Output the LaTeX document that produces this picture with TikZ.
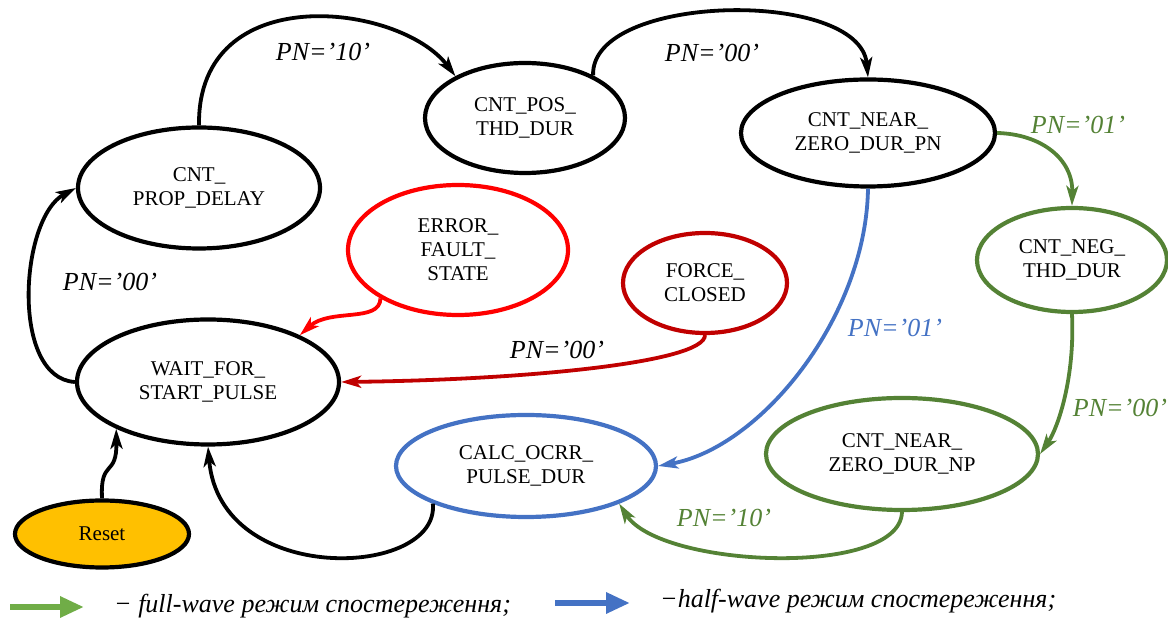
\documentclass[tikz,border=0pt]{standalone}
\usepackage{fontspec}
\setmainfont{Liberation Serif}
\usetikzlibrary{shapes}
\usetikzlibrary{arrows.meta}
\definecolor{fwgreen}{HTML}{548235}
\definecolor{lggreen}{HTML}{70AD47}
\definecolor{hwblue}{HTML}{4472C4}
\definecolor{errred}{HTML}{FF0000}
\definecolor{frcred}{HTML}{C00000}
\definecolor{rstfill}{HTML}{FFC000}

\begin{document}
\begin{tikzpicture}[x=1pt,y=1pt,
	fsm/.style={ellipse,draw,line width=4.2pt,inner sep=0pt,align=center,font=\fontsize{21}{24}\selectfont},
	trans/.style={line width=3.8pt,-{Stealth[length=20pt,width=12pt,inset=5pt]}},
	cond/.style={font=\fontsize{26}{30}\selectfont\itshape},
	legarrow/.style={line width=6.5pt,-{Triangle[length=24pt,width=20pt]}}
	]
	\useasboundingbox (0,0) rectangle (1168,618);
	% states
	\node[fsm,minimum width=242pt,minimum height=121pt] (prop) at (199,430) {CNT\_\\PROP\_DELAY};
	\node[fsm,minimum width=200pt,minimum height=110pt] (pos) at (525,500) {CNT\_POS\_\\THD\_DUR};
	\node[fsm,minimum width=254pt,minimum height=107pt] (pn) at (868,485) {CNT\_NEAR\_\\ZERO\_DUR\_PN};
	\node[fsm,draw=fwgreen,minimum width=190pt,minimum height=104pt] (neg) at (1072,358) {CNT\_NEG\_\\THD\_DUR};
	\node[fsm,draw=fwgreen,minimum width=272pt,minimum height=112pt] (np) at (902,164) {CNT\_NEAR\_\\ZERO\_DUR\_NP};
	\node[fsm,draw=hwblue,minimum width=260pt,minimum height=102pt] (calc) at (526,152) {CALC\_OCRR\_\\PULSE\_DUR};
	\node[fsm,minimum width=262pt,minimum height=125pt] (wait) at (208,236) {WAIT\_FOR\_\\START\_PULSE};
	\node[fsm,draw=errred,minimum width=220pt,minimum height=130pt] (err) at (458,368) {ERROR\_\\FAULT\_\\STATE};
	\node[fsm,draw=frcred,minimum width=164pt,minimum height=100pt] (force) at (705,335) {FORCE\_\\CLOSED};
	\node[fsm,fill=rstfill,minimum width=174pt,minimum height=67pt] (reset) at (102,84) {Reset};

	% transitions
	\draw[trans] (prop.north) .. controls (197,640) and (400,615) .. (pos.149);
	\draw[trans] (pos.32) .. controls (590,625) and (860,630) .. (pn.north);
	\draw[trans,fwgreen] (pn.east) .. controls (1040,484) and (1073,460) .. (neg.north);
	\draw[trans,fwgreen] (neg.south) .. controls (1075,240) and (1058,190) .. (np.east);
	\draw[trans,fwgreen] (np.south) .. controls (900,40) and (660,50) .. (calc.-22);
	\draw[trans,hwblue] (pn.south) .. controls (866,300) and (760,170) .. (calc.east);
	\draw[trans] (calc.202) .. controls (440,40) and (220,30) .. (wait.south);
	\draw[trans] (reset.north) .. controls (100,160) and (117,140) .. (wait.207);
	\draw[trans] (wait.west) .. controls (10,240) and (20,400) .. (prop.west);
	\draw[trans,errred] (err.212) .. controls (380,295) and (330,310) .. (wait.27);
	\draw[trans,frcred] (force.south) .. controls (705,255) and (520,238) .. (wait.east);

	% conditions
	\node[cond] (c1) at (323,566) {PN=’10’};
	\node[cond] (c2) at (712,565) {PN=’00’};
	\node[cond,text=fwgreen] (c3) at (1078,493) {PN=’01’};
	\node[cond,text=fwgreen] (c4) at (1120,210) {PN=’00’};
	\node[cond,text=fwgreen] (c5) at (724,100) {PN=’10’};
	\node[cond,text=hwblue] (c6) at (895,290) {PN=’01’};
	\node[cond] (c7) at (110,336) {PN=’00’};
	\node[cond] (c8) at (557,268) {PN=’00’};

	% legend
	\coordinate (g1) at (10,11);
	\coordinate (g2) at (84,11);
	\coordinate (b1) at (555,15);
	\coordinate (b2) at (630,15);
	\draw[legarrow,lggreen] (g1) -- (g2);
	\draw[legarrow,hwblue] (b1) -- (b2);
	\node[cond,anchor=west,inner sep=0pt] (leg1) at (114,12) {− full-wave режим спостереження;};
	\node[cond,anchor=west,inner sep=0pt] (leg2) at (660,17) {−half-wave режим спостереження;};
\end{tikzpicture}
\end{document}
